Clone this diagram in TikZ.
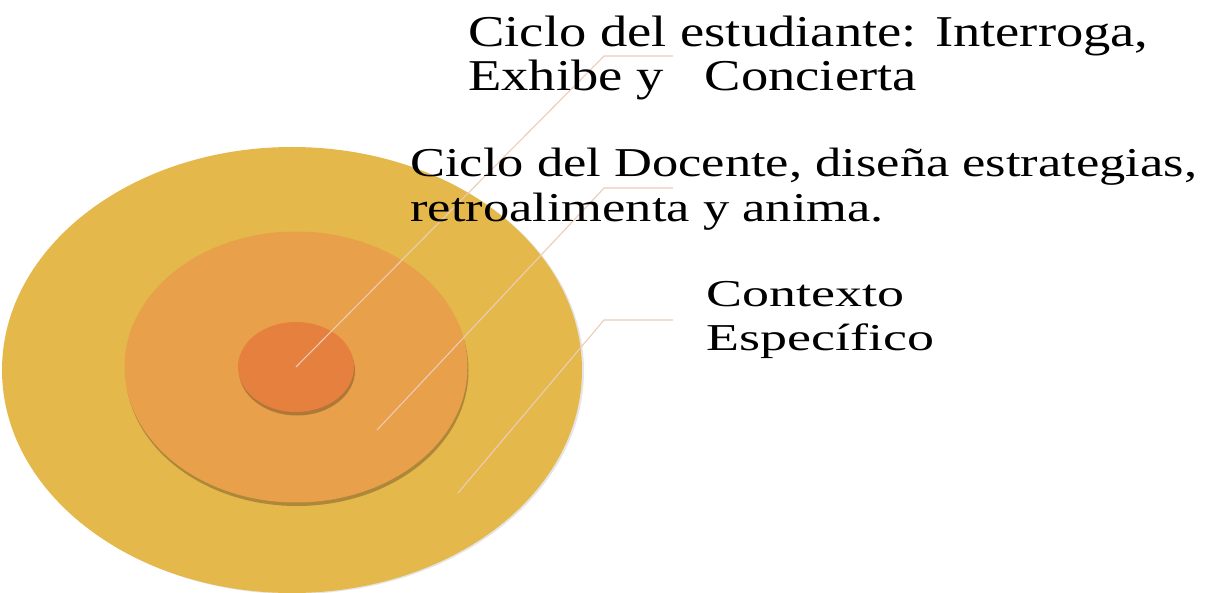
\documentclass[tikz,border=0pt]{standalone}
\usepackage{fontspec}
\setmainfont{Liberation Serif}
\usetikzlibrary{shapes.geometric,positioning}
\definecolor{ctxfill}{HTML}{E5B84C}
\definecolor{docfill}{HTML}{E8A04A}
\definecolor{estfill}{HTML}{E5803E}
\definecolor{leader}{HTML}{EBCBB9}
\tikzset{
  ring/.style={ellipse, inner sep=0pt, draw=none},
  ringshade/.style={ring, fill=black!70!docfill, opacity=0.35},
  leaderline/.style={draw=leader, line width=1.1pt},
  cyclelabel/.style={anchor=base west, align=left, inner sep=0pt, text=black, transform shape}
}

\begin{document}
\begin{tikzpicture}[x=1pt,y=-1pt]
        \useasboundingbox (0,0) rectangle (1207,593);
        % rings
        \node[ring, fill=black!25, opacity=0.4, minimum width=580pt, minimum height=446pt] at (294,371) {};
        \node[ring, fill=ctxfill, minimum width=580pt, minimum height=446pt] (contexto) at (292,370) {};
        \node[ringshade, minimum width=343pt, minimum height=271pt] at (297,370.5) {};
        \node[ring, fill=docfill, minimum width=343pt, minimum height=271pt] (docente) at (296,367) {};
        \node[ringshade, minimum width=116pt, minimum height=90pt] at (297,370.5) {};
        \node[ring, fill=estfill, minimum width=116pt, minimum height=90pt] (estudiante) at (296,367) {};
        % leader lines
        \coordinate (docpt) at (377,430);
        \coordinate (ctxpt) at (458,493);
        \coordinate (estend) at (673,56);
        \coordinate (docend) at (673,188);
        \coordinate (ctxend) at (673,320);
        \draw[leaderline] (estudiante.center) -- (604,56) -- (estend);
        \draw[leaderline] (docpt) -- (604,188) -- (docend);
        \draw[leaderline] (ctxpt) -- (604,320) -- (ctxend);
        % labels
        \node[cyclelabel, xscale=1.24, font=\fontsize{44}{44}\selectfont] (estlabel) at (468,91)
          {Ciclo del estudiante: Interroga,\\Exhibe y \ \ Concierta};
        \node[cyclelabel, xscale=1.28, font=\fontsize{41}{45}\selectfont] (doclabel) at (410,222)
          {Ciclo del Docente, diseña estrategias,\\retroalimenta y anima.};
        \node[cyclelabel, xscale=1.42, font=\fontsize{38}{44}\selectfont] (ctxlabel) at (706,351)
          {Contexto\\Específico};
      \end{tikzpicture}
\end{document}
